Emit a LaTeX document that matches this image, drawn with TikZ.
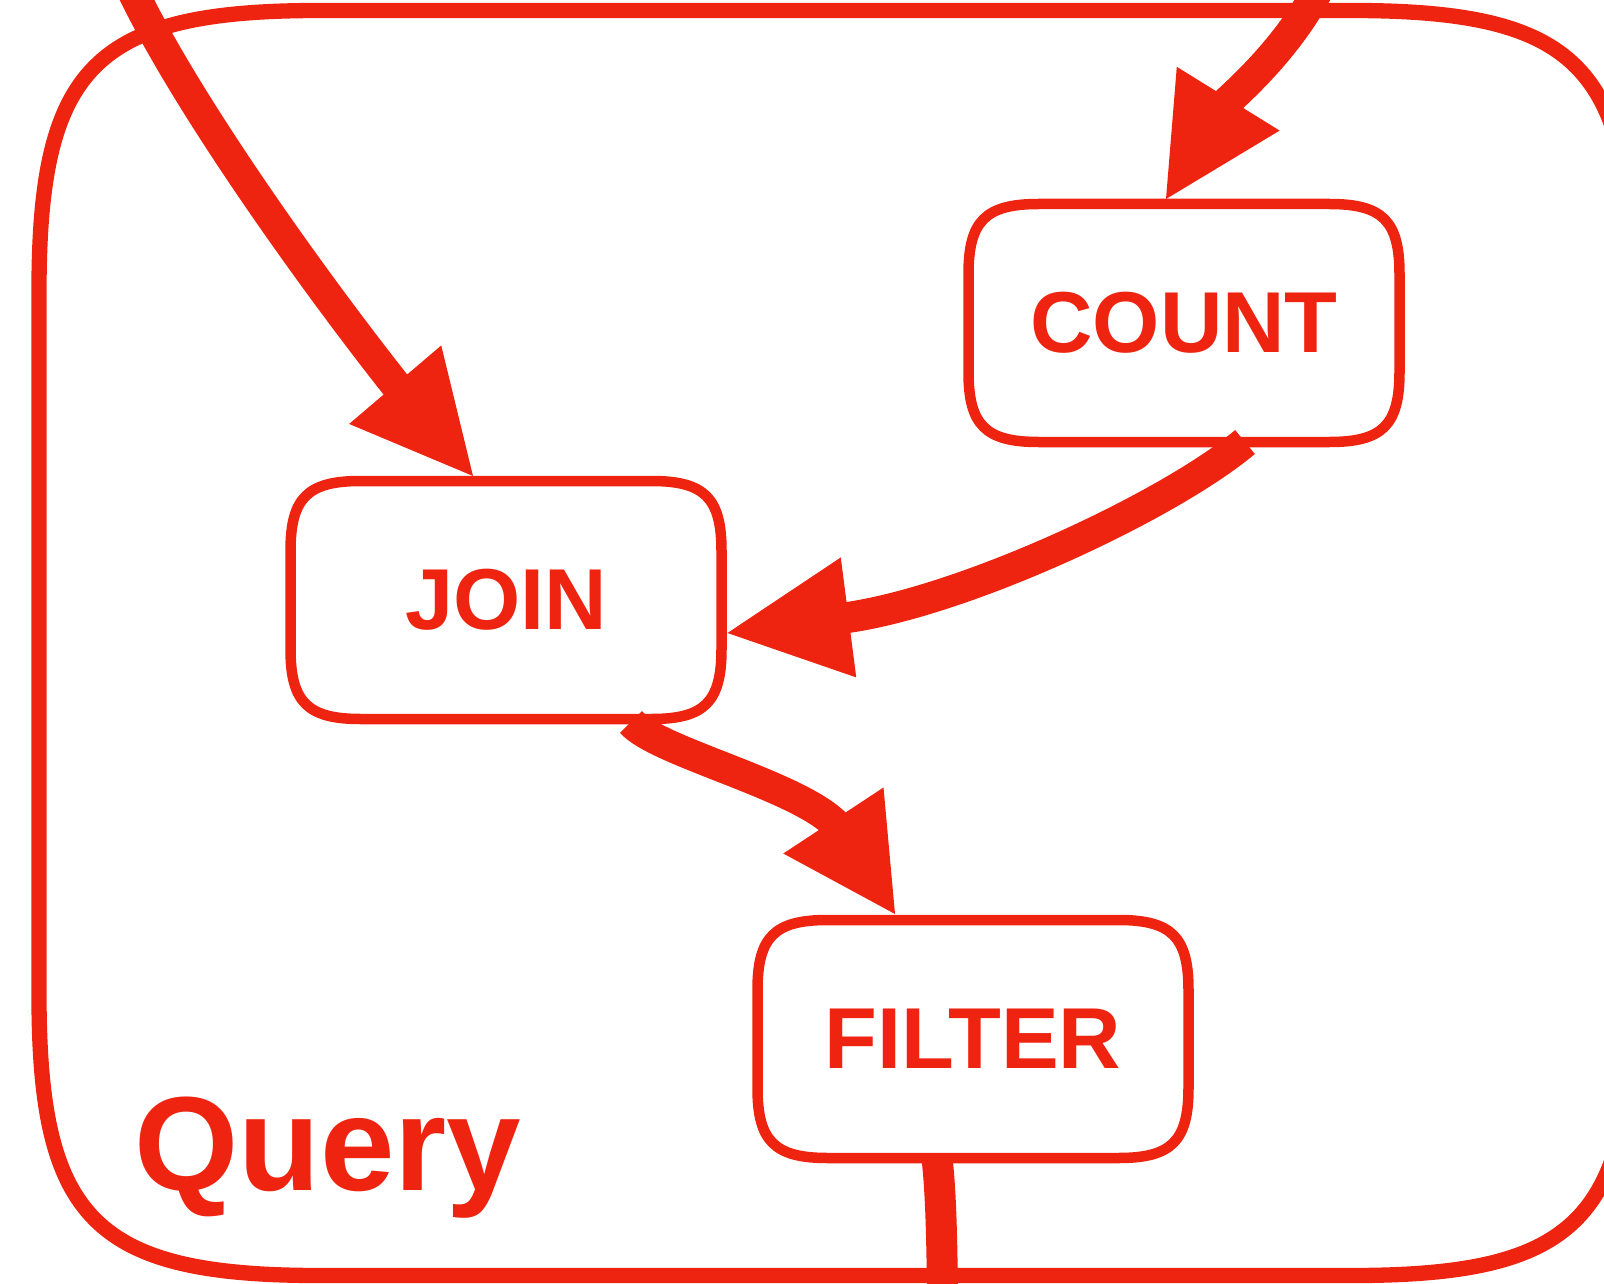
\documentclass[tikz,border=0pt]{standalone}
\usepackage{fontspec}
\setmainfont{Liberation Sans}
\usetikzlibrary{calc}

\definecolor{qred}{RGB}{238,35,16}

% Rounded frame with soft corners around a node.
% #1 style, #2 node name, #3 corner size, #4 handle offset
\newcommand\sqframe[4]{%
  \draw[#1] ($(#2.north west)+(#3,0)$) -- ($(#2.north east)+(-#3,0)$)
    .. controls ($(#2.north east)+(-#4,0)$) and ($(#2.north east)+(0,#4)$) .. ($(#2.north east)+(0,#3)$)
    -- ($(#2.south east)+(0,-#3)$)
    .. controls ($(#2.south east)+(0,-#4)$) and ($(#2.south east)+(-#4,0)$) .. ($(#2.south east)+(-#3,0)$)
    -- ($(#2.south west)+(#3,0)$)
    .. controls ($(#2.south west)+(#4,0)$) and ($(#2.south west)+(0,-#4)$) .. ($(#2.south west)+(0,-#3)$)
    -- ($(#2.north west)+(0,#3)$)
    .. controls ($(#2.north west)+(0,#4)$) and ($(#2.north west)+(#4,0)$) .. cycle;}

% Filled triangular arrow head: #1 tip, #2 middle of the back edge, #3 half width
\newcommand\headat[3]{%
  \fill[qred] (#1) -- ($(#2)!#3!90:(#1)$) -- ($(#2)!#3!-90:(#1)$) -- cycle;}

\begin{document}
\begin{tikzpicture}[x=1pt,y=-1pt,
  box/.style={draw=none, minimum width=431pt, minimum height=238pt,
    inner sep=0pt, outer sep=0pt, text=qred,
    font=\bfseries\fontsize{86.5}{100}\selectfont},
  cluster/.style={draw=none, minimum width=1593pt, minimum height=1265pt,
    inner sep=0pt, outer sep=0pt},
  innerframe/.style={draw=qred, line width=10.5pt},
  outerframe/.style={draw=qred, line width=15.3pt},
  flow/.style={draw=qred, line width=31pt},
]
\useasboundingbox (0,0) rectangle (1604,1284);
\clip (0,0) rectangle (1604,1284);

% cluster and operator boxes
\node[cluster] (query) at (835.5,643) {};
\node[box] (count)  at (1184,323) {COUNT};
\node[box] (join)   at (506,600)  {JOIN};
\node[box] (filter) at (973,1039) {FILTER};

\sqframe{outerframe}{query}{280}{56}
\sqframe{innerframe}{count}{70}{17}
\sqframe{innerframe}{join}{70}{17}
\sqframe{innerframe}{filter}{70}{17}

\node[anchor=base west, text=qred, inner sep=0pt,
  font=\bfseries\fontsize{134}{150}\selectfont] (qlabel) at (134,1190) {Query};

% loose ends of edges that enter or leave the cluster
\coordinate (src1) at (75,-124);
\coordinate (src2) at (1345,-100);
\coordinate (sink) at (943,1420);

% arrow tips on the box borders and the backs of the heads
\coordinate (t1) at ($(join.north)+(-33,-5)$);
\coordinate (b1) at ($(t1)+(-77.8,-91.3)$);
\coordinate (t2) at ($(count.north)+(-18,-5)$);
\coordinate (b2) at ($(t2)+(62.2,-100.3)$);
\coordinate (t3) at ($(join.east)+(6,33)$);
\coordinate (b3) at ($(t3)+(121,-15.6)$);
\coordinate (t4) at ($(filter.north)+(-78,-6)$);
\coordinate (b4) at ($(t4)+(-61.6,-93.5)$);

% edges
\draw[flow] (src1) -- (137,0) .. controls (195,116) and (318.4,287.6) .. ($(t1)+(-73.9,-86.8)$);
\headat{t1}{b1}{60.5pt}
\draw[flow] (src2) .. controls (1338,0) and (1254,77) .. ($(t2)+(59,-95.2)$);
\headat{t2}{b2}{60.5pt}
\draw[flow] ($(count.south)+(61,0)$) .. controls (1169,506) and (961.5,602.8) .. ($(t3)+(115,-14.8)$);
\headat{t3}{b3}{60.5pt}
\draw[flow] ($(join.south)+(125,3)$) .. controls (657.4,752) and (799.3,785.4) .. ($(t4)+(-58.3,-88.5)$);
\headat{t4}{b4}{60pt}
\draw[flow] ($(filter.south)+(-36,0)$) .. controls (941,1195) and (943,1240) .. (sink);
\end{tikzpicture}
\end{document}
